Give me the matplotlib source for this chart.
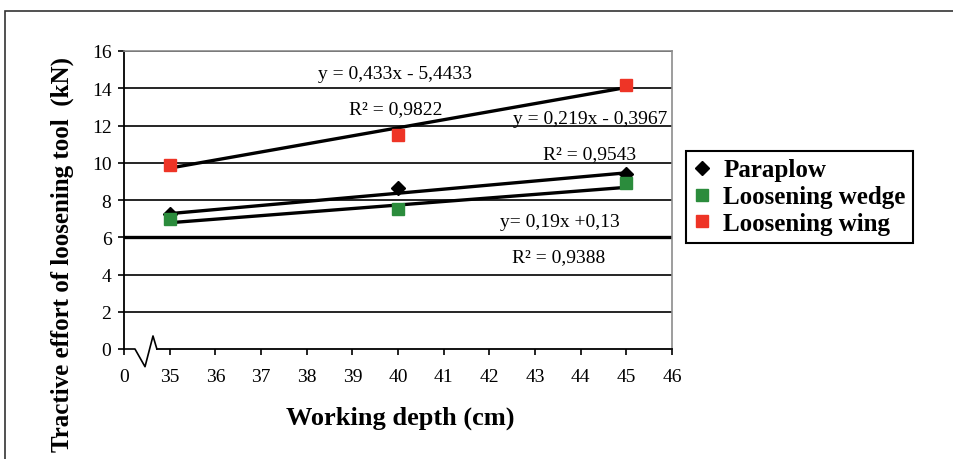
import matplotlib
matplotlib.use('Agg')
import matplotlib.pyplot as plt
from matplotlib.patches import Rectangle

# data
depth = [35, 40, 45]
paraplow = [7.25, 8.65, 9.4]
wedge = [7.0, 7.5, 8.9]
wing = [9.9, 11.5, 14.2]

# trendline equations printed on the chart (slope, intercept)
trend_paraplow = (0.219, -0.3967)
trend_wedge = (0.19, 0.13)
trend_wing = (0.433, -5.4433)

tick_labels = ['0', '35', '36', '37', '38', '39', '40', '41', '42', '43', '44', '45', '46']
y_ticks = [0, 2, 4, 6, 8, 10, 12, 14, 16]

red = '#ee3426'
green = '#2b8c3c'
serif = 'Liberation Serif'


def pos(x):
    # category axis: "0" sits at 0, then 35..46 at 1..12
    return x - 34


fig = plt.figure(figsize=(9.54, 4.6), dpi=100)
ax = fig.add_axes([124 / 954, 1 - 350 / 460, 548 / 954, 298 / 460])

# gridlines
for y in y_ticks[1:]:
    ax.axhline(y, color='black', lw=2.4 if y == 6 else 1.2, zorder=1)

# trend lines
for (m, b) in [trend_wing, trend_paraplow, trend_wedge]:
    xs = [depth[0], depth[-1]]
    ax.plot([pos(x) for x in xs], [m * x + b for x in xs], color='black', lw=2.4, zorder=3)

px = [pos(x) for x in depth]
h1, = ax.plot(px, paraplow, 'D', color='black', ms=7, ls='none', zorder=4, label='Paraplow')
h2, = ax.plot(px, wedge, 's', color=green, ms=9, ls='none', zorder=4, label='Loosening wedge')
h3, = ax.plot(px, wing, 's', color=red, ms=9, ls='none', zorder=4, label='Loosening wing')

ax.set_xlim(0, 12)
ax.set_ylim(0, 16)
ax.set_xticks(range(13))
ax.set_xticklabels(tick_labels)
ax.set_yticks(y_ticks)
ax.set_yticklabels([str(v) for v in y_ticks])
ax.tick_params(axis='both', direction='out', length=4, width=1.2, color='black',
               labelsize=14)
ax.tick_params(axis='x', pad=10)
ax.tick_params(axis='y', pad=5)
for lab in ax.get_xticklabels() + ax.get_yticklabels():
    lab.set_fontfamily(serif)

ax.spines['left'].set_linewidth(1.3)
ax.spines['bottom'].set_linewidth(1.3)
ax.spines['top'].set_color('#8c8c8c')
ax.spines['right'].set_color('#8c8c8c')
ax.spines['top'].set_linewidth(1.2)
ax.spines['right'].set_linewidth(1.2)

# axis break on the x axis
ax.spines['bottom'].set_bounds(0.72, 12)
ax.plot([0, 0.24, 0.46, 0.635, 0.72], [0, 0, -0.95, 0.7, 0], color='black', lw=1.2,
        clip_on=False, zorder=5)

# equation labels
txt = dict(fontsize=14, family=serif, ha='center', va='center', zorder=6)
ax.text(5.93, 14.77, 'y = 0,433x - 5,4433', **txt)
ax.text(5.96, 12.89, 'R² = 0,9822', **txt)
ax.text(10.2, 12.35, 'y = 0,219x - 0,3967', **txt)
ax.text(10.2, 10.47, 'R² = 0,9543', **txt)
ax.text(9.55, 6.87, 'y= 0,19x +0,13', **txt)
ax.text(9.52, 4.94, 'R² = 0,9388', **txt)

fig.text(400 / 954, 1 - 418 / 460, 'Working depth (cm)', ha='center', va='center',
         fontsize=19, fontweight='bold', family=serif)
fig.text(62 / 954, 1 - 255 / 460, 'Tractive effort of loosening tool  (kN)', ha='center',
         va='center', rotation=90, fontsize=18, fontweight='bold', family=serif)

leg = ax.legend(handles=[h1, h2, h3], loc='upper left',
                bbox_to_anchor=(686 / 954, 1 - 152 / 460), bbox_transform=fig.transFigure,
                borderaxespad=0, fancybox=False, edgecolor='black', framealpha=1,
                prop={'family': serif, 'weight': 'bold', 'size': 18},
                handlelength=0.7, handletextpad=0.5, labelspacing=0.15,
                borderpad=0.3)
leg.get_frame().set_linewidth(1.5)

# outer frame of the figure
fig.patches.append(Rectangle((5 / 954, -0.05), 1.0, 1 - 12 / 460 + 0.05,
                             transform=fig.transFigure, fill=False,
                             edgecolor='#333333', lw=1.2))

fig.savefig('out.png', dpi=100)
